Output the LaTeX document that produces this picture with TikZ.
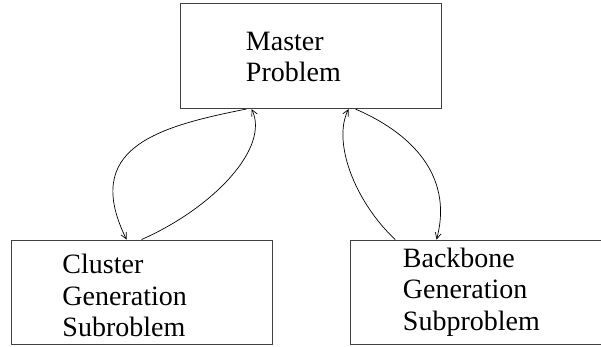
\documentclass[tikz,border=0pt]{standalone}
\usepackage{fontspec}
\setmainfont{Liberation Serif}
\usetikzlibrary{arrows.meta}

\tikzset{
  box/.style={draw=black!75, line width=0.9pt, rectangle, inner sep=0pt, minimum width=261pt},
  lbl/.style={anchor=north west, inner sep=0pt, align=left, font=\fontsize{28}{31.7}\selectfont},
  link/.style={line width=0.7pt, -{Straight Barb[length=6pt,width=6pt]}}
}

\begin{document}
\begin{tikzpicture}[x=1pt,y=1pt]
  \useasboundingbox (0,0) rectangle (601,347);
  % boxes
  \node[box, minimum height=104.7pt] (master) at (311.2,290.7) {};
  \node[box, minimum height=104pt] (cluster) at (141.5,55) {};
  \node[box, minimum width=259pt, minimum height=104pt] (backbone) at (480.2,55) {};
  % texts
  \node[lbl] (mastertxt) at ([xshift=65.5pt,yshift=-28pt]master.north west) {Master\\Problem};
  \node[lbl] (clustertxt) at ([xshift=51.7pt,yshift=-14.4pt]cluster.north west) {Cluster\\Generation\\Subroblem};
  \node[lbl] (backbonetxt) at ([xshift=52.5pt,yshift=-8pt]backbone.north west) {Backbone\\Generation\\Subproblem};
  % left pair
  \draw[link] ([xshift=66pt]master.south west) .. controls (155,220) and (82,198) .. ([xshift=116pt]cluster.north west);
  \draw[link] ([xshift=131pt]cluster.north west) .. controls (215,140) and (270,200) .. ([xshift=71.3pt]master.south west);
  % right pair
  \draw[link] ([xshift=45pt]backbone.north west) .. controls (355,145) and (332,205) .. ([xshift=168.3pt]master.south west);
  \draw[link] ([xshift=175.3pt]master.south west) .. controls (420,210) and (452,165) .. ([xshift=86.3pt]backbone.north west);
\end{tikzpicture}
\end{document}
